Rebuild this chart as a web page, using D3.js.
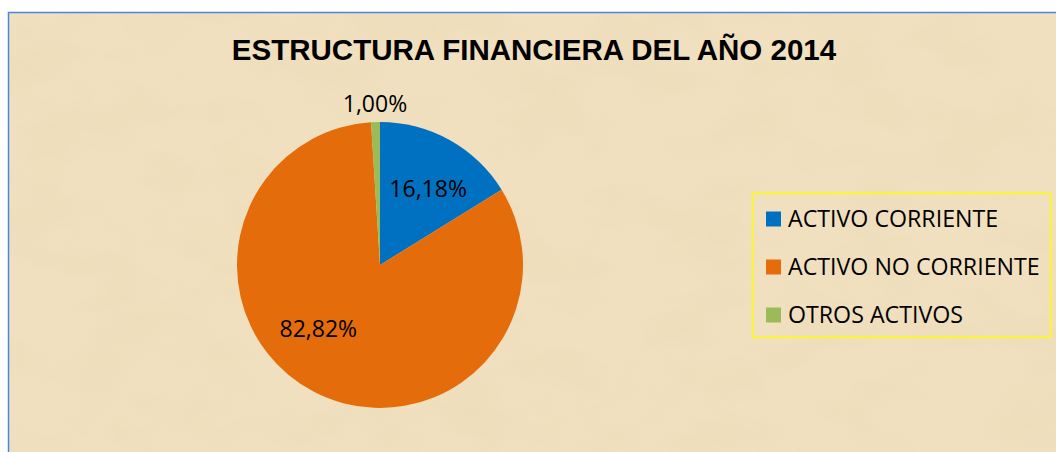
<!DOCTYPE html>
<html><head><meta charset="utf-8">
<script src="https://cdn.jsdelivr.net/npm/d3@7"></script>
<style>html,body{margin:0;padding:0;background:#fff;overflow:hidden}</style>
</head><body>
<svg id="chart" width="1056" height="452"></svg>
<script>
const title = "ESTRUCTURA FINANCIERA DEL AÑO 2014";
const categories = ["ACTIVO CORRIENTE", "ACTIVO NO CORRIENTE", "OTROS ACTIVOS"];
const values = [16.18, 82.82, 1.00];
const labels = ["16,18%", "82,82%", "1,00%"];
const colors = ["#0070c0", "#e46c0a", "#9bbb59"];

const svg = d3.select("#chart");
const defs = svg.append("defs");
const f = defs.append("filter").attr("id","paper").attr("x",0).attr("y",0).attr("width","100%").attr("height","100%");
f.append("feTurbulence").attr("type","fractalNoise").attr("baseFrequency","0.012 0.02").attr("numOctaves",4).attr("seed",3).attr("result","n");
f.append("feColorMatrix").attr("in","n").attr("type","matrix")
 .attr("values","0 0 0 0 0.80  0 0 0 0 0.68  0 0 0 0 0.45  0 0 0 1.3 -0.55").attr("result","c");
f.append("feComposite").attr("in","c").attr("in2","SourceGraphic").attr("operator","in");

// background
svg.append("rect").attr("x",8).attr("y",12).attr("width",1048).attr("height",440).attr("fill","#f1e0bf");
svg.append("rect").attr("x",8).attr("y",12).attr("width",1048).attr("height",440).attr("fill","#f1e0bf").attr("filter","url(#paper)").attr("opacity",0.6);
svg.append("path").attr("d","M8.5,452 V12.5 H1056").attr("fill","none").attr("stroke","#4a86e0").attr("stroke-width",1.5);

svg.append("text").attr("x",534).attr("y",60).attr("text-anchor","middle")
 .attr("font-family","Liberation Sans, Arial, sans-serif").attr("font-weight","bold").attr("font-size",29.5)
 .attr("fill","#000").text(title);

const cx = 380, cy = 265, r = 143;
const pie = d3.pie().sort(null).value(d => d)(values);
const arc = d3.arc().innerRadius(0).outerRadius(r);
const g = svg.append("g").attr("transform",`translate(${cx},${cy})`);
g.selectAll("path").data(pie).join("path").attr("d",arc).attr("fill",(d,i)=>colors[i]);

const labelArc = [d3.arc().innerRadius(r*0.62).outerRadius(r*0.62),
                  d3.arc().innerRadius(r*0.62).outerRadius(r*0.62),
                  d3.arc().innerRadius(r*1.12).outerRadius(r*1.12)];
const offs = [[5,0],[-21,-16],[0,-2]];
g.selectAll("text.lbl").data(pie).join("text").attr("class","lbl")
 .attr("transform",(d,i)=>{const c=labelArc[i].centroid(d);return `translate(${c[0]+offs[i][0]},${c[1]+offs[i][1]})`;})
 .attr("text-anchor","middle").attr("dominant-baseline","central")
 .attr("font-family","Open Sans, Noto Sans, sans-serif").attr("font-size",23).attr("fill","#000")
 .text((d,i)=>labels[i]);

// legend
svg.append("rect").attr("x",752.5).attr("y",193.5).attr("width",298).attr("height",144)
 .attr("fill","none").attr("stroke","#ffff00").attr("stroke-width",1.5);
const y = d3.scalePoint().domain(categories).range([219,315]);
const lg = svg.append("g").selectAll("g").data(categories).join("g").attr("transform",d=>`translate(766,${y(d)})`);
lg.append("rect").attr("x",0).attr("y",-7.5).attr("width",15).attr("height",15).attr("fill",(d,i)=>colors[i]);
lg.append("text").attr("x",22).attr("y",8.3)
 .attr("font-family","Open Sans, Noto Sans, sans-serif").attr("font-size",23.2).attr("fill","#000").text(d=>d);
</script>
</body></html>
